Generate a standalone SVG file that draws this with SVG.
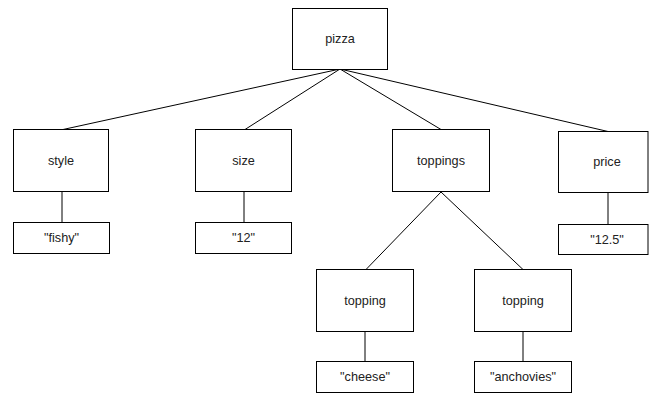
<svg xmlns="http://www.w3.org/2000/svg" width="649" height="394" viewBox="0 0 649 394">
<style>
rect{fill:#fff;stroke:#000;stroke-width:1}
text{font-family:"Liberation Sans",Arial,sans-serif;font-size:12.7px;fill:#222;text-anchor:middle;dominant-baseline:central}
.c line{stroke:#000;stroke-width:1}
</style>
<rect x="0" y="0" width="649" height="394" style="stroke:none"/>
<g class="c" id="connectors">
<line x1="340" y1="69" x2="63" y2="129.5"/>
<line x1="340" y1="69" x2="245" y2="129.5"/>
<line x1="340" y1="69" x2="441" y2="129.5"/>
<line x1="340" y1="69" x2="608" y2="131.5"/>
<line x1="441" y1="192" x2="366" y2="269.5"/>
<line x1="441" y1="192" x2="523" y2="269.5"/>
<line x1="62" y1="192" x2="62" y2="222.5"/>
<line x1="244" y1="192" x2="244" y2="222.5"/>
<line x1="608" y1="193" x2="608" y2="224.5"/>
<line x1="365" y1="332" x2="365" y2="361.5"/>
<line x1="523" y1="332" x2="523" y2="361.5"/>
</g>
<g id="pizza"><rect x="292.5" y="8.5" width="95" height="61"/><text x="340" y="39">pizza</text></g>
<g id="style"><rect x="13.5" y="129.5" width="95" height="62"/><text x="61" y="160.5">style</text></g>
<g id="style-val"><rect x="13.5" y="222.5" width="96" height="31"/><text x="61.5" y="238">"fishy"</text></g>
<g id="size"><rect x="195.5" y="129.5" width="96" height="62"/><text x="243.5" y="160.5">size</text></g>
<g id="size-val"><rect x="195.5" y="222.5" width="96" height="31"/><text x="243.5" y="238">"12"</text></g>
<g id="toppings"><rect x="392.5" y="129.5" width="97" height="62"/><text x="441" y="160.5">toppings</text></g>
<g id="price"><rect x="558.5" y="131.5" width="89.5" height="61"/><text x="607" y="162">price</text></g>
<g id="price-val"><rect x="558.5" y="224.5" width="89.5" height="30"/><text x="607" y="239.5">"12.5"</text></g>
<g id="topping1"><rect x="316.5" y="269.5" width="97" height="62"/><text x="365" y="300.5">topping</text></g>
<g id="topping1-val"><rect x="316.5" y="361.5" width="97" height="31"/><text x="365" y="377">"cheese"</text></g>
<g id="topping2"><rect x="474.5" y="269.5" width="97" height="62"/><text x="523" y="300.5">topping</text></g>
<g id="topping2-val"><rect x="474.5" y="361.5" width="97" height="31"/><text x="523" y="377">"anchovies"</text></g>
</svg>
